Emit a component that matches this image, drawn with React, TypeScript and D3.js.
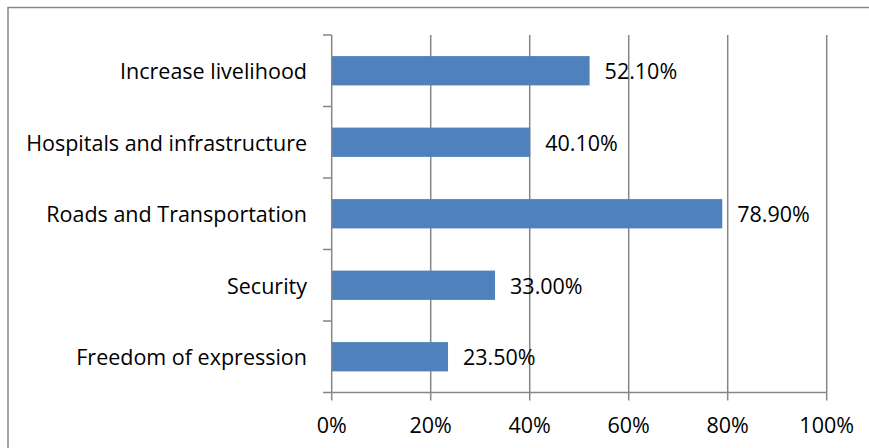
import React from "react";
import * as d3 from "d3";

const categories = [
  "Increase livelihood",
  "Hospitals and infrastructure",
  "Roads and Transportation",
  "Security",
  "Freedom of expression",
];
const values = [0.521, 0.401, 0.789, 0.33, 0.235];
const valueLabels = ["52.10%", "40.10%", "78.90%", "33.00%", "23.50%"];
const xTicks = [0, 0.2, 0.4, 0.6, 0.8, 1.0];
const xTickLabels = ["0%", "20%", "40%", "60%", "80%", "100%"];

const W = 869;
const H = 448;
const FONT = "'Open Sans', sans-serif";
const FS = 21.5;
const GRAY = "#868686";

export default function App() {
  const x = d3.scaleLinear().domain([0, 1]).range([331.7, 826.7]);
  const y = d3
    .scaleBand<string>()
    .domain(categories)
    .range([35, 392.5])
    .paddingInner(0.59)
    .paddingOuter(0.295);
  const step = y.step();
  const y0 = 35;
  const y1 = 392.5;
  const boundaries = d3.range(categories.length + 1).map((i) => y0 + i * step);

  return (
    <svg
      width={W}
      height={H}
      style={{ position: "absolute", left: 0, top: 0, background: "#fff" }}
      fontFamily={FONT}
    >
      <rect x={8} y={7.5} width={W} height={H} fill="#fff" stroke={GRAY} strokeWidth={1.5} />
      {xTicks.slice(1).map((t) => (
        <line key={"g" + t} x1={x(t)} x2={x(t)} y1={y0} y2={y1} stroke={GRAY} strokeWidth={1.5} />
      ))}
      {categories.map((c, i) => (
        <rect
          key={c}
          x={x(0)}
          y={y(c)}
          width={x(values[i]) - x(0)}
          height={y.bandwidth()}
          fill="#4F81BD"
        />
      ))}
      {/* y axis */}
      <line x1={x(0)} x2={x(0)} y1={y0} y2={y1} stroke={GRAY} strokeWidth={1.5} />
      {boundaries.map((b, i) => (
        <line key={"yt" + i} x1={323} x2={x(0)} y1={b} y2={b} stroke={GRAY} strokeWidth={1.5} />
      ))}
      {/* x axis */}
      <line x1={x(0)} x2={x(1)} y1={y1} y2={y1} stroke={GRAY} strokeWidth={1.5} />
      {xTicks.map((t) => (
        <line key={"xt" + t} x1={x(t)} x2={x(t)} y1={y1} y2={y1 + 8} stroke={GRAY} strokeWidth={1.5} />
      ))}
      {xTicks.map((t, i) => (
        <text
          key={"xl" + t}
          x={x(t)}
          y={424}
          textAnchor="middle"
          dominantBaseline="central"
          fontSize={FS}
          fill="#000"
        >
          {xTickLabels[i]}
        </text>
      ))}
      {categories.map((c) => (
        <text
          key={"cl" + c}
          x={307}
          y={(y(c) as number) + y.bandwidth() / 2}
          textAnchor="end"
          dominantBaseline="central"
          fontSize={FS}
          fill="#000"
        >
          {c}
        </text>
      ))}
      {categories.map((c, i) => (
        <text
          key={"vl" + c}
          x={x(values[i]) + 15}
          y={(y(c) as number) + y.bandwidth() / 2}
          textAnchor="start"
          dominantBaseline="central"
          fontSize={FS}
          fill="#000"
        >
          {valueLabels[i]}
        </text>
      ))}
    </svg>
  );
}
